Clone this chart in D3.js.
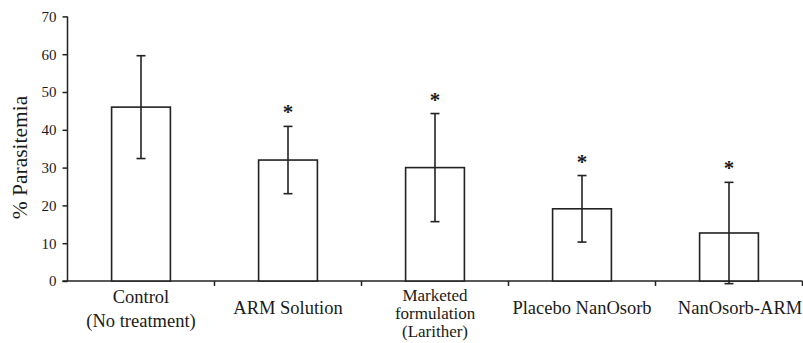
<!DOCTYPE html>
<html>
<head>
    <title>Parasitemia</title>
    <script src="https://d3js.org/d3.v7.min.js"></script>
    <style>
        body { margin: 0; padding: 0; background: #fff; }
        svg { display: block; }
        text { font-family: "Liberation Serif", "Times New Roman", serif; fill: #1a1a1a; }
    </style>
</head>
<body>
    <div id="chart"></div>
    <script>
        // data
        const groups = ["Control", "ARM Solution", "Marketed", "Placebo NanOsorb", "NanOsorb-ARM"];
        const groupLabels = [
            ["Control", "(No treatment)"],
            ["ARM Solution"],
            ["Marketed", "formulation", "(Larither)"],
            ["Placebo NanOsorb"],
            ["NanOsorb-ARM"]
        ];
        const means = [46.0, 32.0, 30.0, 19.1, 12.7];
        const sds = [13.6, 8.9, 14.3, 8.8, 13.4];
        const significant = [false, true, true, true, true];
        const yTicks = [0, 10, 20, 30, 40, 50, 60, 70];

        const width = 803, height = 343;
        const plotLeft = 67.5, plotRight = 802.5, plotTop = 16.4, plotBottom = 281;

        const svg = d3.select("#chart").append("svg")
            .attr("width", width)
            .attr("height", height);

        const x = d3.scaleBand()
            .domain(groups)
            .range([plotLeft, plotRight])
            .paddingInner(0.6)
            .paddingOuter(0.3);

        const y = d3.scaleLinear()
            .domain([0, 70])
            .range([plotBottom, plotTop]);

        const step = x.step();

        // y axis
        const yAxis = svg.append("g")
            .attr("transform", `translate(${plotLeft},0)`)
            .call(d3.axisLeft(y).tickValues(yTicks).tickSize(5).tickPadding(6));
        yAxis.select(".domain").attr("stroke", "#222").attr("stroke-width", 1.5)
            .attr("d", `M0,${y(70)}V${y(0)}`);
        yAxis.selectAll(".tick line").attr("stroke", "#222").attr("stroke-width", 1.5);
        yAxis.selectAll(".tick text")
            .attr("font-size", 15)
            .style("font-family", "'Liberation Serif', serif")
            .attr("fill", "#1a1a1a");

        // x axis baseline and ticks between groups
        svg.append("line")
            .attr("x1", plotLeft - 5).attr("x2", plotRight)
            .attr("y1", y(0)).attr("y2", y(0))
            .attr("stroke", "#222").attr("stroke-width", 1.5);

        const boundaries = groups.slice(1).map(g => x(g) - x.paddingInner() * step / 2);
        boundaries.push(plotRight);
        svg.append("g").selectAll("line")
            .data(boundaries)
            .enter().append("line")
            .attr("x1", d => d).attr("x2", d => d)
            .attr("y1", y(0)).attr("y2", y(0) + 5)
            .attr("stroke", "#222").attr("stroke-width", 1.5);

        // bars
        svg.append("g").selectAll("rect")
            .data(groups)
            .enter().append("rect")
            .attr("x", d => x(d))
            .attr("y", (d, i) => y(means[i]))
            .attr("width", x.bandwidth())
            .attr("height", (d, i) => y(0) - y(means[i]))
            .attr("fill", "#fff")
            .attr("stroke", "#222")
            .attr("stroke-width", 1.6);

        // error bars
        const cap = 4.5;
        const err = svg.append("g").selectAll("g")
            .data(groups)
            .enter().append("g")
            .attr("stroke", "#222")
            .attr("stroke-width", 1.6);
        err.append("line")
            .attr("x1", d => x(d) + x.bandwidth() / 2)
            .attr("x2", d => x(d) + x.bandwidth() / 2)
            .attr("y1", (d, i) => y(means[i] + sds[i]))
            .attr("y2", (d, i) => y(means[i] - sds[i]));
        err.append("line")
            .attr("x1", d => x(d) + x.bandwidth() / 2 - cap)
            .attr("x2", d => x(d) + x.bandwidth() / 2 + cap)
            .attr("y1", (d, i) => y(means[i] + sds[i]))
            .attr("y2", (d, i) => y(means[i] + sds[i]));
        err.append("line")
            .attr("x1", d => x(d) + x.bandwidth() / 2 - cap)
            .attr("x2", d => x(d) + x.bandwidth() / 2 + cap)
            .attr("y1", (d, i) => y(means[i] - sds[i]))
            .attr("y2", (d, i) => y(means[i] - sds[i]));

        // significance stars
        svg.append("g").selectAll("text")
            .data(groups.filter((d, i) => significant[i]))
            .enter().append("text")
            .attr("x", d => x(d) + x.bandwidth() / 2)
            .attr("y", d => {
                const i = groups.indexOf(d);
                return y(means[i] + sds[i]) - 7;
            })
            .attr("text-anchor", "middle")
            .attr("font-size", 21)
            .attr("font-weight", "bold")
            .text("*");

        // category labels
        const labels = svg.append("g").selectAll("text")
            .data(groups)
            .enter().append("text")
            .attr("text-anchor", "middle")
            .attr("font-size", (d, i) => groupLabels[i].length === 3 ? 17 : 18.5)
            .attr("transform", (d, i) => {
                // last label sits a bit right in the original
                const shift = i === groups.length - 1 ? 11 : 0;
                return `translate(${x(d) + x.bandwidth() / 2 + shift},0)`;
            });
        labels.each(function(d, i) {
            const lines = groupLabels[i];
            const gap = lines.length === 2 ? 23.5 : 18;
            const base = lines.length === 1 ? 314 : (lines.length === 3 ? 300.5 : 303);
            d3.select(this).selectAll("tspan")
                .data(lines)
                .enter().append("tspan")
                .attr("x", 0)
                .attr("y", (l, j) => base + j * gap)
                .text(l => l);
        });

        // y axis title
        svg.append("text")
            .attr("transform", `translate(27,${(95 + 220) / 2}) rotate(-90)`)
            .attr("text-anchor", "middle")
            .attr("font-size", 21.5)
            .text("% Parasitemia");
    </script>
</body>
</html>
